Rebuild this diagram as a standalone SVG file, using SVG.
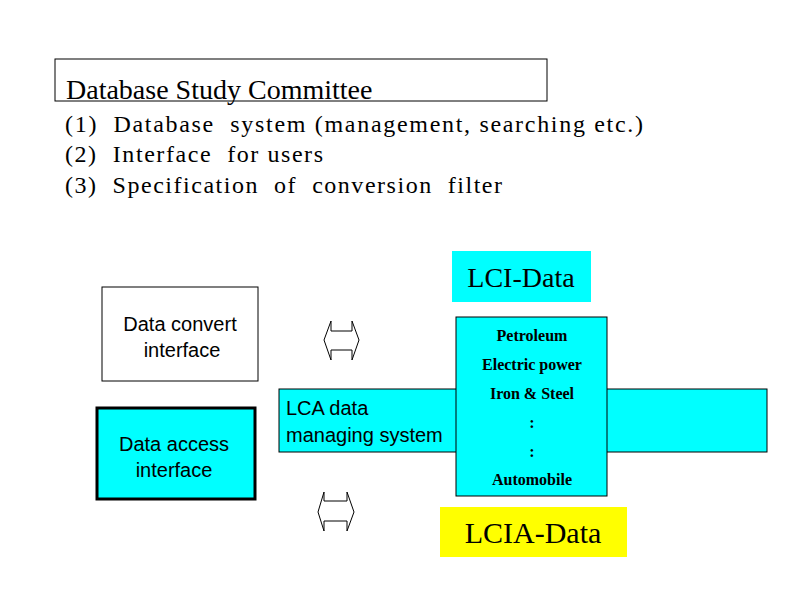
<svg xmlns="http://www.w3.org/2000/svg" width="794" height="595" viewBox="0 0 794 595">
<style>
text{font-family:"Liberation Serif",serif;fill:#000}
.big{font-size:28px}
.list{font-size:24px;white-space:pre}
.sans{font-family:"Liberation Sans",Arial,sans-serif;font-size:20px}
.small{font-size:16px;font-weight:bold}
.arr{fill:#fff;stroke:#000;stroke-width:1}
</style>
<rect width="794" height="595" fill="#fff"/>
<g id="title"><rect x="55" y="59" width="492" height="42" fill="#fff" stroke="#000"/>
<text class="big" x="66" y="99">Database Study Committee</text></g>
<g id="list">
<text class="list" x="65" y="132" textLength="578" lengthAdjust="spacing">(1)  Database  system (management, searching etc.)</text>
<text class="list" x="65" y="162" textLength="258" lengthAdjust="spacing">(2)  Interface  for users</text>
<text class="list" x="65" y="193" textLength="437" lengthAdjust="spacing">(3)  Specification  of  conversion  filter</text></g>
<g id="lci"><rect x="452" y="251" width="139" height="51" fill="#00ffff"/><text class="big" x="521" y="287" text-anchor="middle">LCI-Data</text></g>
<g id="convert"><rect x="102" y="287" width="156" height="94" fill="#fff" stroke="#000"/>
<text class="sans" x="180" y="331" text-anchor="middle">Data convert</text><text class="sans" x="182" y="357" text-anchor="middle">interface</text></g>
<g id="access"><rect x="97" y="408" width="158" height="91" fill="#00ffff" stroke="#000" stroke-width="3"/>
<text class="sans" x="174" y="451" text-anchor="middle">Data access</text><text class="sans" x="174" y="477" text-anchor="middle">interface</text></g>
<g id="lca"><rect x="279" y="389" width="488" height="63" fill="#00ffff" stroke="#000"/>
<text class="sans" x="286" y="415">LCA data</text><text class="sans" x="286" y="442">managing system</text></g>
<g id="sectors"><rect x="456" y="317" width="151" height="179" fill="#00ffff" stroke="#000"/>
<g class="small" text-anchor="middle">
<text x="532" y="341">Petroleum</text><text x="532" y="370">Electric power</text><text x="532" y="399">Iron &amp; Steel</text>
<text x="532" y="428">:</text><text x="532" y="457">:</text><text x="532" y="485">Automobile</text></g></g>
<g id="lcia"><rect x="440" y="507" width="187" height="50" fill="#ffff00"/><text class="big" x="533" y="543" text-anchor="middle" style="font-size:30px">LCIA-Data</text></g>
<g id="connectors">
<polygon class="arr" points="324,340 331,321 331,331 352,331 352,321 359,340 352,360 352,350 331,350 331,360"/>
<polygon class="arr" points="318,512 324,492 324,501 347,501 347,492 354,512 347,531 347,521 324,521 324,531"/>
</g>
</svg>
